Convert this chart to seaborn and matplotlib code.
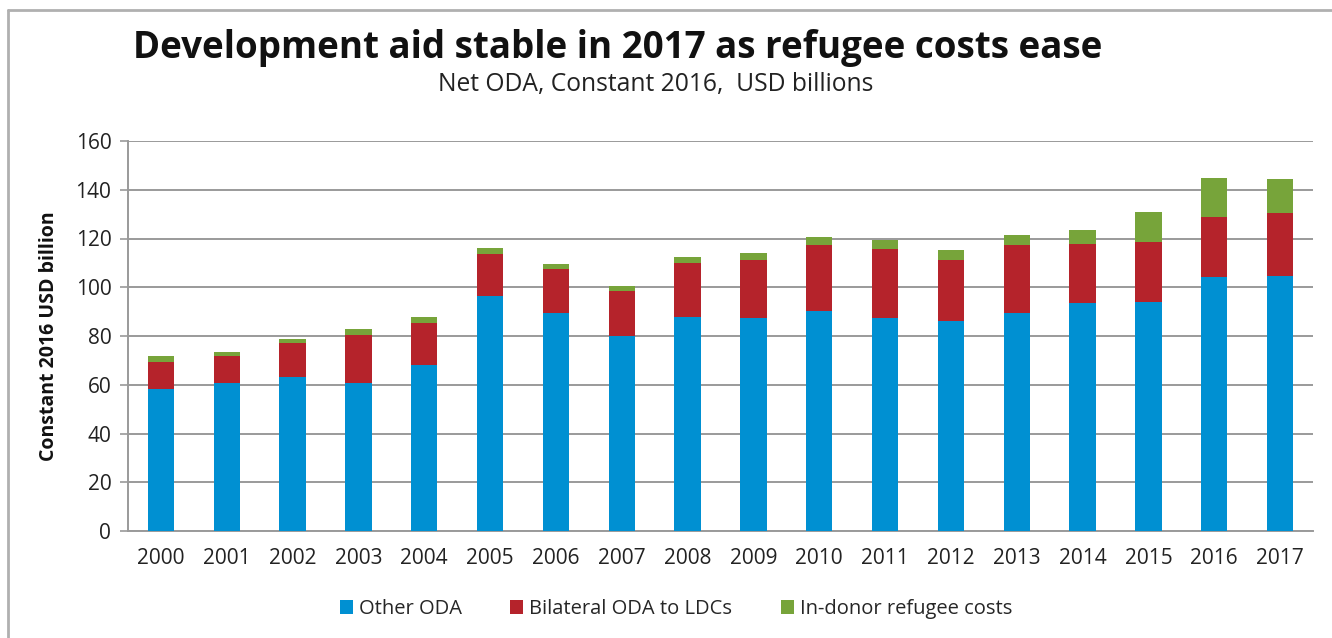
import matplotlib
matplotlib.use("Agg")
import matplotlib.pyplot as plt
import seaborn as sns
import pandas as pd
import numpy as np
from matplotlib.lines import Line2D
from matplotlib.patches import Patch

years = ["2000", "2001", "2002", "2003", "2004", "2005", "2006", "2007", "2008",
         "2009", "2010", "2011", "2012", "2013", "2014", "2015", "2016", "2017"]
other_oda = [58.4, 60.6, 63.0, 60.6, 68.0, 96.4, 89.3, 79.8, 87.8,
             87.3, 90.3, 87.5, 86.0, 89.6, 93.4, 94.0, 104.3, 104.7]
bilateral_ldc = [11.1, 11.2, 14.3, 19.9, 17.2, 17.3, 18.1, 18.7, 22.1,
                 23.9, 26.9, 28.1, 25.2, 27.6, 24.2, 24.6, 24.6, 25.6]
refugee_costs = [2.3, 1.8, 1.6, 2.2, 2.7, 2.3, 2.0, 1.9, 2.5,
                 2.9, 3.4, 3.9, 3.9, 4.1, 5.8, 12.4, 16.0, 14.0]
series_names = ["Other ODA", "Bilateral ODA to LDCs", "In-donor refugee costs"]
colors = ["#0090D2", "#B5232B", "#77A43A"]
yticks = [0, 20, 40, 60, 80, 100, 120, 140, 160]

df = pd.DataFrame({"year": years, "other": other_oda,
                   "bil": bilateral_ldc, "ref": refugee_costs})
df["lvl1"] = df["other"]
df["lvl2"] = df["other"] + df["bil"]
df["lvl3"] = df["lvl2"] + df["ref"]

sns.set_theme(style="white")
plt.rcParams['font.family'] = ['Open Sans', 'DejaVu Sans']

fig = plt.figure(figsize=(13.32, 6.38), dpi=100)
ax = fig.add_axes([128/1332, 1-531/638, (1313-128)/1332, (531-141)/638])

for col, c in zip(["lvl3", "lvl2", "lvl1"], colors[::-1]):
    sns.barplot(data=df, x="year", y=col, color=c, width=0.4, ax=ax,
                saturation=1, linewidth=0, zorder=3)

ax.set_xlim(-0.5, len(years) - 0.5)
ax.set_ylim(0, 160)
ax.set_yticks(yticks)
ax.set_yticklabels([str(v) for v in yticks], fontsize=15, color="#222222")
ax.yaxis.grid(True, color="#9a9a9a", linewidth=1.4, zorder=0)
ax.set_axisbelow(True)
ax.set_xlabel("")
ax.set_ylabel("Constant 2016 USD billion", fontsize=14, fontweight="bold",
              color="#111111", labelpad=12)
ax.tick_params(axis="x", which="major", length=0, labelsize=15, pad=12,
               labelcolor="#222222")
ax.set_xticks(np.arange(-0.5, len(years), 1.0), minor=True)
ax.tick_params(axis="x", which="minor", length=6, width=1.2, color="#9a9a9a",
               direction="out")
ax.tick_params(axis="y", length=6, width=1.2, color="#9a9a9a", direction="out",
               left=True, pad=6)
for s in ["top", "right"]:
    ax.spines[s].set_visible(False)
for s in ["left", "bottom"]:
    ax.spines[s].set_color("#9a9a9a")
    ax.spines[s].set_linewidth(1.4)

fig.text(618/1332, 1-48/638, "Development aid stable in 2017 as refugee costs ease",
         ha="center", va="center", fontsize=26.5, fontweight="bold", color="#111111")
fig.text(656/1332, 1-84/638, "Net ODA, Constant 2016,  USD billions",
         ha="center", va="center", fontsize=17.7, color="#222222")

handles = [Patch(facecolor=c, edgecolor="none") for c in colors]
fig.legend(handles, series_names, loc="center", bbox_to_anchor=(676/1332, 1-609/638),
           ncol=3, frameon=False, fontsize=14.5, handlelength=0.65, handleheight=0.65,
           handletextpad=0.3, columnspacing=2.4)

# outer chart frame (top and left edges)
fig.add_artist(Line2D([8/1332, 1], [1-10/638, 1-10/638], transform=fig.transFigure,
                      color="#b0b0b0", linewidth=2))
fig.add_artist(Line2D([8/1332, 8/1332], [0, 1-10/638], transform=fig.transFigure,
                      color="#b0b0b0", linewidth=2))

fig.savefig("out.png", dpi=100)
